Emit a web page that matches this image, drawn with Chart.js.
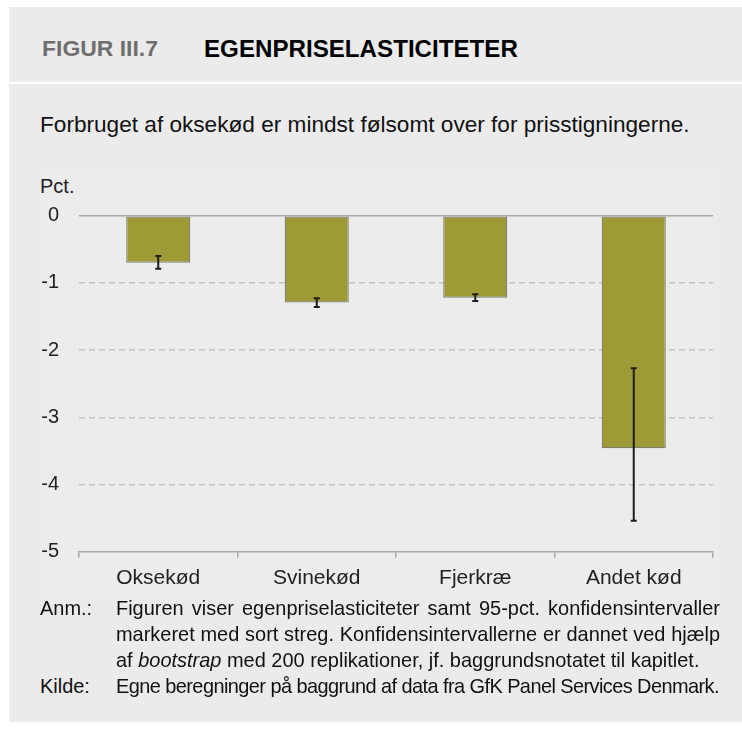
<!DOCTYPE html>
<html>
<head>
<meta charset="utf-8">
<script src="https://cdn.jsdelivr.net/npm/chart.js@4.4.1/dist/chart.umd.min.js"></script>
<style>
  html, body { margin: 0; padding: 0; background: #ffffff; }
  body { width: 742px; height: 740px; position: relative; overflow: hidden; font-family: "Liberation Sans", Arial, sans-serif; }
  .panel { position: absolute; background: #ebebeb; }
  .txt { position: absolute; white-space: nowrap; color: #000; }
  .jl { position: absolute; left: 116px; width: 604px; white-space: nowrap; text-align: justify; text-align-last: justify; color: #111; }
  #chartBox { position: absolute; left: 38px; top: 170px; width: 680px; height: 430px; background: #ececec; }
  #chartWrap { position: absolute; left: 0; top: 170px; width: 742px; height: 430px; }
</style>
</head>
<body>
<div class="panel" style="left:9px; top:7px; width:733px; height:75px;"></div>
<div class="panel" style="left:9px; top:84px; width:733px; height:638px;"></div>
<div id="chartBox"></div>

<div class="txt" id="fig" style="left:42px; top:35px; font-weight:bold; color:#6f6f6f;">FIGUR III.7</div>
<div class="txt" id="ttl" style="left:204px; top:35px; font-weight:bold; color:#000;">EGENPRISELASTICITETER</div>
<div class="txt" id="sub" style="left:40px; top:112px; color:#111;">Forbruget af oksekød er mindst følsomt over for prisstigningerne.</div>
<div class="txt" id="pct" style="left:40px; top:175px; font-size:20px; color:#222;">Pct.</div>

<div id="chartWrap"><canvas id="c" width="742" height="430"></canvas></div>

<div class="txt note" style="left:40px; top:597px; color:#111;">Anm.:</div>
<div class="jl note" style="top:597px;">Figuren viser egenpriselasticiteter samt 95-pct. konfidensintervaller</div>
<div class="jl note" style="top:623px;">markeret med sort streg. Konfidensintervallerne er dannet ved hjælp</div>
<div class="txt note" id="line3" style="left:116px; top:649px; color:#111;">af <i>bootstrap</i> med 200 replikationer, jf. baggrundsnotatet til kapitlet.</div>
<div class="txt note" style="left:40px; top:675px; color:#111;">Kilde:</div>
<div class="txt note" id="kilText" style="left:116px; top:675px; color:#111;">Egne beregninger på baggrund af data fra GfK Panel Services Denmark.</div>

<script>
// ---- data ----
const categories = ["Oksekød", "Svinekød", "Fjerkræ", "Andet kød"];
const elasticities = [-0.70, -1.29, -1.22, -3.46];
const ciUpper = [-0.60, -1.23, -1.17, -2.27];
const ciLower = [-0.79, -1.36, -1.27, -4.54];
const yTicks = [0, -1, -2, -3, -4, -5];

// ---- fit text widths ----
function fitSize(text, targetWidth, weight) {
  const cv = document.createElement('canvas').getContext('2d');
  cv.font = (weight || '') + ' 20px "Liberation Sans"';
  return 20 * targetWidth / cv.measureText(text).width;
}
function fit(id, targetWidth, weight) {
  const el = document.getElementById(id);
  el.style.fontSize = fitSize(el.textContent, targetWidth, weight).toFixed(2) + 'px';
}
fit('fig', 116, 'bold');
fit('ttl', 314, 'bold');
fit('sub', 650, '');
const noteSize = fitSize(document.getElementById('line3').textContent, 584, '');
document.querySelectorAll('.note').forEach(el => { el.style.fontSize = noteSize.toFixed(2) + 'px'; });
// squeeze the source line to its measured width
(function () {
  const el = document.getElementById('kilText');
  const w = el.getBoundingClientRect().width;
  const n = el.textContent.length;
  el.style.letterSpacing = ((603 - w) / n).toFixed(3) + 'px';
})();

// ---- plugins ----
const zeroLine = {
  id: 'zeroLine',
  afterDatasetsDraw(chart) {
    const { ctx, chartArea, scales } = chart;
    const y = scales.y.getPixelForValue(0);
    ctx.save();
    ctx.strokeStyle = '#a8a8a8';
    ctx.lineWidth = 1.5;
    ctx.beginPath();
    ctx.moveTo(chartArea.left, y);
    ctx.lineTo(chartArea.right, y);
    ctx.stroke();
    ctx.restore();
  }
};
const errorBars = {
  id: 'errorBars',
  afterDatasetsDraw(chart) {
    const { ctx, scales } = chart;
    const meta = chart.getDatasetMeta(0);
    ctx.save();
    ctx.strokeStyle = '#1e1e1e';
    ctx.lineWidth = 2;
    meta.data.forEach((bar, i) => {
      const x = bar.x;
      const y1 = scales.y.getPixelForValue(ciUpper[i]);
      const y2 = scales.y.getPixelForValue(ciLower[i]);
      ctx.beginPath();
      ctx.moveTo(x, y1); ctx.lineTo(x, y2);
      ctx.moveTo(x - 3, y1); ctx.lineTo(x + 3, y1);
      ctx.moveTo(x - 3, y2); ctx.lineTo(x + 3, y2);
      ctx.stroke();
    });
    ctx.restore();
  }
};

const plotTop = 45.7, plotBottom = 381.7, canvasH = 430;
new Chart(document.getElementById('c'), {
  type: 'bar',
  data: {
    labels: categories,
    datasets: [{
      data: elasticities,
      backgroundColor: '#9e9a36',
      borderColor: '#7d7d72',
      borderWidth: 1.2,
      borderSkipped: false,
      barPercentage: 0.404,
      categoryPercentage: 1.0
    }]
  },
  options: {
    responsive: false,
    animation: false,
    events: [],
    layout: { padding: { left: 0, right: 29, top: plotTop, bottom: 0 } },
    plugins: { legend: { display: false }, tooltip: { enabled: false } },
    scales: {
      y: {
        min: -5, max: 0,
        afterFit(s) { s.width = 79; },
        afterBuildTicks(s) { s.ticks = yTicks.map(v => ({ value: v })); },
        border: { display: false, dash: [6, 4] },
        grid: {
          drawTicks: false,
          color: ctx => (ctx.tick && (ctx.tick.value === 0 || ctx.tick.value === -5)) ? 'rgba(0,0,0,0)' : '#c2c2c2',
          lineWidth: 1.5
        },
        ticks: {
          padding: 20,
          color: '#222',
          font: { family: '"Liberation Sans"', size: 20 },
          callback: v => String(v)
        }
      },
      x: {
        afterFit(s) { s.height = canvasH - plotBottom; },
        offset: true,
        border: { display: true, color: '#a8a8a8', width: 1.5 },
        grid: {
          offset: true,
          drawOnChartArea: false,
          drawTicks: true,
          tickLength: 6,
          color: '#a8a8a8',
          lineWidth: 1.5
        },
        ticks: {
          padding: 8,
          color: '#222',
          font: { family: '"Liberation Sans"', size: 21 }
        }
      }
    }
  },
  plugins: [zeroLine, errorBars]
});
</script>
</body>
</html>
